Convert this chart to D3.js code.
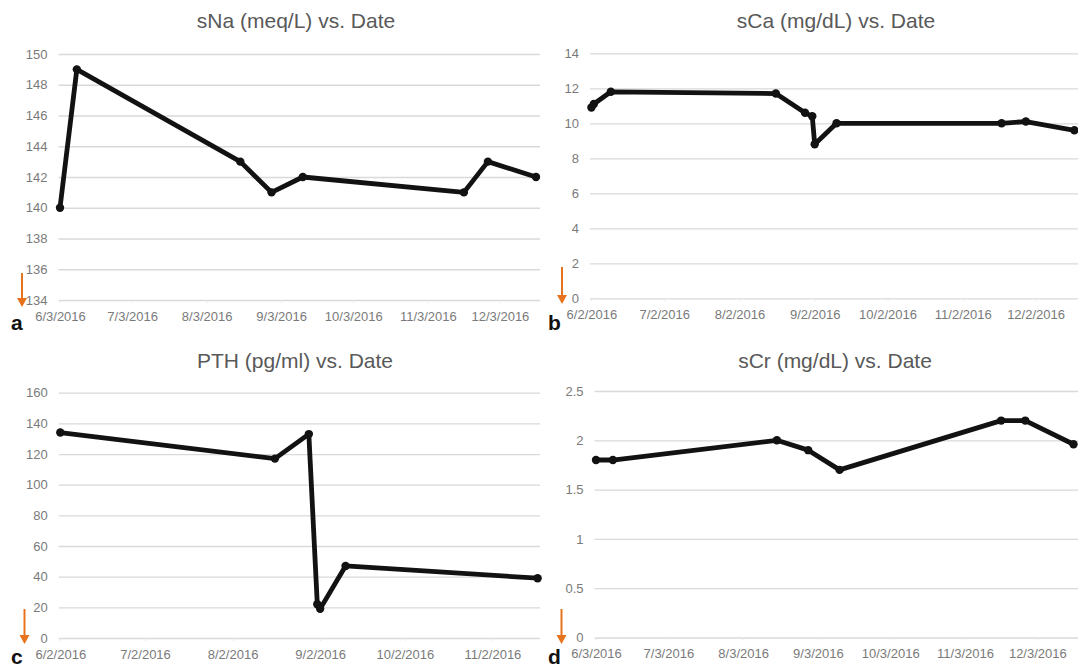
<!DOCTYPE html>
<html>
<head>
<meta charset="utf-8">
<script src="https://cdn.jsdelivr.net/npm/d3@7"></script>
<style>
  html, body { margin: 0; padding: 0; background: #ffffff; }
  svg { display: block; }
  .title { font-family: "Liberation Sans", Arial, sans-serif; fill: #595959; }
  .tick text { font-family: "Liberation Sans", Arial, sans-serif; fill: #7a7a7a; font-size: 13px; }
  .letter { font-family: "Liberation Sans", Arial, sans-serif; font-weight: bold; fill: #111; }
</style>
</head>
<body>
<svg id="chart" width="1078" height="669"></svg>
<script>
// Serum sodium
const naDates  = ["2016-06-03","2016-06-10","2016-08-17","2016-08-30","2016-09-12","2016-11-18","2016-11-28","2016-12-18"];
const naValues = [140, 149, 143, 141, 142, 141, 143, 142];
const naYTicks = [134, 136, 138, 140, 142, 144, 146, 148, 150];
const naXTicks = ["2016-06-03","2016-07-03","2016-08-03","2016-09-03","2016-10-03","2016-11-03","2016-12-03"];

// Serum calcium
const caDates  = ["2016-06-02","2016-06-03","2016-06-10","2016-08-17","2016-08-29","2016-09-01","2016-09-02","2016-09-11","2016-11-18","2016-11-28","2016-12-18"];
const caValues = [10.9, 11.1, 11.8, 11.7, 10.6, 10.4, 8.8, 10.0, 10.0, 10.1, 9.6];
const caYTicks = [0, 2, 4, 6, 8, 10, 12, 14];
const caXTicks = ["2016-06-02","2016-07-02","2016-08-02","2016-09-02","2016-10-02","2016-11-02","2016-12-02"];

// Parathyroid hormone
const pthDates  = ["2016-06-02","2016-08-17","2016-08-29","2016-09-01","2016-09-02","2016-09-11","2016-11-18"];
const pthValues = [134, 117, 133, 22, 19, 47, 39];
const pthYTicks = [0, 20, 40, 60, 80, 100, 120, 140, 160];
const pthXTicks = ["2016-06-02","2016-07-02","2016-08-02","2016-09-02","2016-10-02","2016-11-02"];

// Serum creatinine
const crDates  = ["2016-06-03","2016-06-10","2016-08-17","2016-08-30","2016-09-12","2016-11-18","2016-11-28","2016-12-18"];
const crValues = [1.8, 1.8, 2.0, 1.9, 1.7, 2.2, 2.2, 1.96];
const crYTicks = [0, 0.5, 1, 1.5, 2, 2.5];
const crXTicks = ["2016-06-03","2016-07-03","2016-08-03","2016-09-03","2016-10-03","2016-11-03","2016-12-03"];

const parse = d3.timeParse("%Y-%m-%d");
const fmtDate = d3.timeFormat("%-m/%-d/%Y");

const panels = [
  { title: "sNa (meq/L) vs. Date", letter: "a", dates: naDates, values: naValues, yTicks: naYTicks, xTicks: naXTicks,
    xDomain: ["2016-06-03", "2016-12-18"], xRange: [60, 536], yRange: [300, 54], gridEnd: 540,
    titleX: 296, titleY: 28, letterX: 11, letterY: 330, arrowX: 22, arrowTop: 273, arrowTip: 307 },
  { title: "sCa (mg/dL) vs. Date", letter: "b", dates: caDates, values: caValues, yTicks: caYTicks, xTicks: caXTicks,
    xDomain: ["2016-06-02", "2016-12-18"], xRange: [591.4, 1074.4], yRange: [298.3, 53.3], gridEnd: 1078,
    titleX: 836, titleY: 28, letterX: 548, letterY: 330, arrowX: 562, arrowTop: 267, arrowTip: 304 },
  { title: "PTH (pg/ml) vs. Date", letter: "c", dates: pthDates, values: pthValues, yTicks: pthYTicks, xTicks: pthXTicks,
    xDomain: ["2016-06-02", "2016-11-18"], xRange: [60.3, 537.6], yRange: [638, 392.7], gridEnd: 540,
    titleX: 295, titleY: 368, letterX: 11, letterY: 664, arrowX: 24.5, arrowTop: 609, arrowTip: 644 },
  { title: "sCr (mg/dL) vs. Date", letter: "d", dates: crDates, values: crValues, yTicks: crYTicks, xTicks: crXTicks,
    xDomain: ["2016-06-03", "2016-12-18"], xRange: [596, 1073.5], yRange: [637.5, 391], gridEnd: 1078,
    titleX: 835, titleY: 368, letterX: 548, letterY: 664, arrowX: 561.5, arrowTop: 609, arrowTip: 644 }
];

const svg = d3.select("#chart");

panels.forEach(p => {
  const g = svg.append("g");
  const x = d3.scaleTime().domain(p.xDomain.map(parse)).range(p.xRange);
  const y = d3.scaleLinear().domain(d3.extent(p.yTicks)).range(p.yRange);
  const left = p.xRange[0] - 1.5;
  const gridW = p.gridEnd - left;

  // horizontal gridlines with value labels
  const yAxis = d3.axisLeft(y)
    .tickValues(p.yTicks)
    .tickFormat(d => String(d))
    .tickSize(-gridW)
    .tickPadding(11);
  const gy = g.append("g").attr("transform", `translate(${left},0)`).call(yAxis);
  gy.select(".domain").remove();
  gy.selectAll(".tick line").attr("stroke", "#d9d9d9").attr("stroke-width", 1.3);

  // date labels under the bottom gridline
  const xAxis = d3.axisBottom(x)
    .tickValues(p.xTicks.map(parse))
    .tickFormat(fmtDate)
    .tickSize(3)
    .tickPadding(6);
  const gx = g.append("g").attr("transform", `translate(0,${p.yRange[0]})`).call(xAxis);
  gx.select(".domain").remove();
  gx.selectAll(".tick line").attr("stroke", "#e4e9ef").attr("stroke-width", 1);
  gx.selectAll(".tick text").attr("dy", "0.9em");

  // series
  const pts = p.dates.map((d, i) => ({ date: parse(d), value: p.values[i] }));
  const line = d3.line().x(d => x(d.date)).y(d => y(d.value));
  g.append("path")
    .datum(pts)
    .attr("d", line)
    .attr("fill", "none")
    .attr("stroke", "#121212")
    .attr("stroke-width", 4.8)
    .attr("stroke-linejoin", "round")
    .attr("stroke-linecap", "round");
  g.selectAll("circle.pt")
    .data(pts)
    .join("circle")
    .attr("class", "pt")
    .attr("cx", d => x(d.date))
    .attr("cy", d => y(d.value))
    .attr("r", 4.2)
    .attr("fill", "#121212");

  // title
  g.append("text")
    .attr("class", "title")
    .attr("x", p.titleX)
    .attr("y", p.titleY)
    .attr("text-anchor", "middle")
    .attr("font-size", 21)
    .text(p.title);

  // orange arrow pointing at the axis origin
  g.append("line")
    .attr("x1", p.arrowX).attr("x2", p.arrowX)
    .attr("y1", p.arrowTop).attr("y2", p.arrowTip - 7)
    .attr("stroke", "#e8731f")
    .attr("stroke-width", 2);
  g.append("path")
    .attr("d", `M${p.arrowX - 5},${p.arrowTip - 9} L${p.arrowX + 5},${p.arrowTip - 9} L${p.arrowX},${p.arrowTip} Z`)
    .attr("fill", "#e8731f");

  // panel letter
  g.append("text")
    .attr("class", "letter")
    .attr("x", p.letterX)
    .attr("y", p.letterY)
    .attr("font-size", 21)
    .text(p.letter);
});
</script>
</body>
</html>
